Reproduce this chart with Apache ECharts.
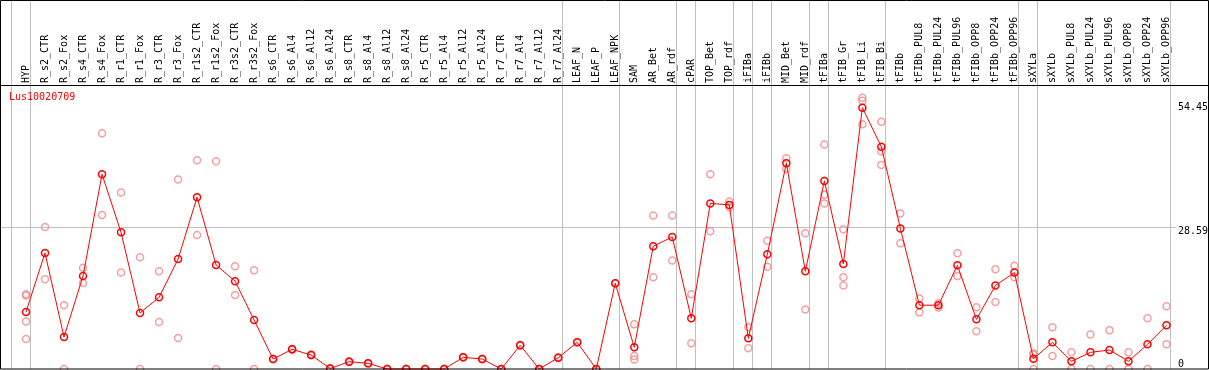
<!DOCTYPE html>
<html>
<head>
<meta charset="utf-8">
<script src="https://cdn.jsdelivr.net/npm/echarts@6/dist/echarts.min.js"></script>
<style>
html,body{margin:0;padding:0;background:#fff;}
#chart{width:1209px;height:370px;}
</style>
</head>
<body>
<div id="chart"></div>
<script>
var categories = ["HYP","R_s2_CTR","R_s2_Fox","R_s4_CTR","R_s4_Fox","R_r1_CTR","R_r1_Fox","R_r3_CTR","R_r3_Fox","R_r1s2_CTR","R_r1s2_Fox","R_r3s2_CTR","R_r3s2_Fox","R_s6_CTR","R_s6_Al4","R_s6_Al12","R_s6_Al24","R_s8_CTR","R_s8_Al4","R_s8_Al12","R_s8_Al24","R_r5_CTR","R_r5_Al4","R_r5_Al12","R_r5_Al24","R_r7_CTR","R_r7_Al4","R_r7_Al12","R_r7_Al24","LEAF_N","LEAF_P","LEAF_NPK","SAM","AR_Bet","AR_rdf","cPAR","TOP_Bet","TOP_rdf","iFIBa","iFIBb","MID_Bet","MID_rdf","tFIBa","tFIB_Gr","tFIB_Li","tFIB_Bi","tFIBb","tFIBb_PUL8","tFIBb_PUL24","tFIBb_PUL96","tFIBb_OPP8","tFIBb_OPP24","tFIBb_OPP96","sXYLa","sXYLb","sXYLb_PUL8","sXYLb_PUL24","sXYLb_PUL96","sXYLb_OPP8","sXYLb_OPP24","sXYLb_OPP96"];

var means = [11.88,24.17,6.67,19.38,40.57,28.48,11.67,14.93,22.9,35.8,21.67,18.3,10.2,2.08,4.1,2.92,0.1,1.53,1.18,0,0,0,0,2.43,2.08,0,4.93,0,2.36,5.56,0,17.86,4.52,25.6,27.5,10.56,34.5,34.2,6.4,23.9,42.9,20.35,39.2,21.9,54.45,46.3,29.3,13.3,13.3,21.6,10.35,17.4,20.1,2.15,5.56,1.6,3.47,3.96,1.6,5.14,9.1];

var replicates = [
  [15.6,15.3,9.9,6.25],[29.6,18.7],[13.3,0],[21.1,17.9],[49.1,32.1],[36.8,20.1],[23.3,0],[20.35,9.8],[39.5,6.46],[43.5,27.9],
  [43.3,0],[21.4,15.4],[20.6,0],[2.1,2.06],[4.2,4.0],[3.0,2.85],[0.1,0.1],[1.6,1.5],[1.2,1.15],[0,0],
  [0,0],[0,0],[0,0],[2.5,2.4],[2.1,2.05],[0,0],[5.0,4.9],[0,0],[2.4,2.3],[5.56],
  [0],[17.86],[9.3,2.7,2.0],[32.0,19.1],[32.0,22.6],[15.6,5.35],[40.6,28.7],[34.9,33.7],[8.7,4.3],[26.7,21.3],
  [43.9,41.7],[28.3,12.4],[46.8,36.3,34.5],[29.1,19.1,17.4],[56.5,55.9,51.0],[51.5,45.3,42.5],[32.4,26.2],[14.7,11.8],[13.7,12.8],[24.1,19.4],
  [12.85,7.85],[20.8,13.96],[21.5,19.1],[3.27,3.0,0],[8.7,2.7],[3.5,0],[7.2,0],[8.1,0],[3.5,0],[10.56,0],
  [13.07,5.14]
];

var yTickValues = [0, 28.59, 54.45];
var yTickLabels = ["0", "28.59", "54.45"];
var yMax = 59.18;
var title = "Lus10020709";

// group separators: [category index, band shift]
var separators = [[0,-1],[0,0],[28,0],[31,0],[34,0],[35,0],[37,0],[38,0],[39,0],[41,0],[42,0],[45,0],[52,0],[53,0],[60,0]];

var repData = [];
replicates.forEach(function(arr, i){ arr.forEach(function(v){ repData.push([i, v]); }); });

var mono = "DejaVu Sans Mono";
var chart = echarts.init(document.getElementById('chart'), null, {renderer:'canvas'});
chart.setOption({
  animation: false,
  backgroundColor: '#fff',
  title: {
    text: title, left: 9, top: 92, padding: 0,
    textStyle: {color: '#ff0000', fontSize: 10, fontWeight: 'normal', fontFamily: mono}
  },
  grid: {left: 16.5, right: 33, top: 85, bottom: 1, outerBoundsMode: 'none', containLabel: false},
  xAxis: {
    type: 'category', position: 'top', data: categories, boundaryGap: true,
    axisLine: {show: false}, axisTick: {show: false}, splitLine: {show: false},
    axisLabel: {interval: 0, rotate: 90, margin: 2, fontSize: 10, fontFamily: mono, color: '#000'}
  },
  yAxis: {
    type: 'value', position: 'right', min: 0, max: yMax,
    axisLine: {show: false}, axisTick: {show: false}, splitLine: {show: false},
    axisLabel: {
      customValues: yTickValues, margin: 2, fontSize: 10, fontFamily: mono, color: '#000',
      verticalAlignMinLabel: 'bottom',
      formatter: function(v){ var k = yTickValues.indexOf(v); return k >= 0 ? yTickLabels[k] : ''; }
    }
  },
  graphic: [
    {type: 'rect', shape: {x: 0.5, y: 0.5, width: 1208, height: 368.5}, style: {fill: 'none', stroke: '#000', lineWidth: 1}, z: 100},
    {type: 'line', shape: {x1: 0, y1: 85.5, x2: 1209, y2: 85.5}, style: {stroke: '#000', lineWidth: 1}, z: 100}
  ],
  series: [
    {
      type: 'custom', silent: true, clip: false, z: 1,
      data: separators,
      encode: {x: 0, y: 1},
      renderItem: function(params, api){
        var c = api.coord([api.value(0), 0]);
        var bw = api.size([1, 0])[0];
        var x = Math.round(c[0] + api.value(1) * bw + 4) + 0.5;
        var children = [{type: 'line', shape: {x1: x, y1: 0, x2: x, y2: 369}, style: {stroke: '#c0c0c0', lineWidth: 1}}];
        if (params.dataIndex === 0) {
          var ym = Math.round(api.coord([0, yMax / 2])[1]) + 0.5;
          var last = api.coord([categories.length - 1, 0])[0] + bw / 2;
          children.push({type: 'line', shape: {x1: 0, y1: ym, x2: last, y2: ym}, style: {stroke: '#c0c0c0', lineWidth: 1}});
        }
        return {type: 'group', children: children};
      }
    },
    {
      type: 'scatter', data: repData, symbol: 'circle', symbolSize: 7, clip: false, z: 2,
      itemStyle: {color: 'rgba(255,255,255,0)', borderColor: '#ee8a8a', borderWidth: 1.5},
      emphasis: {disabled: true}
    },
    {
      type: 'line', data: means, symbol: 'circle', symbolSize: 7, showAllSymbol: true, clip: false, z: 3,
      lineStyle: {color: '#ff0000', width: 1},
      itemStyle: {color: 'rgba(255,255,255,0)', borderColor: '#ff0000', borderWidth: 1.5},
      emphasis: {disabled: true}
    }
  ]
});
</script>
</body>
</html>
